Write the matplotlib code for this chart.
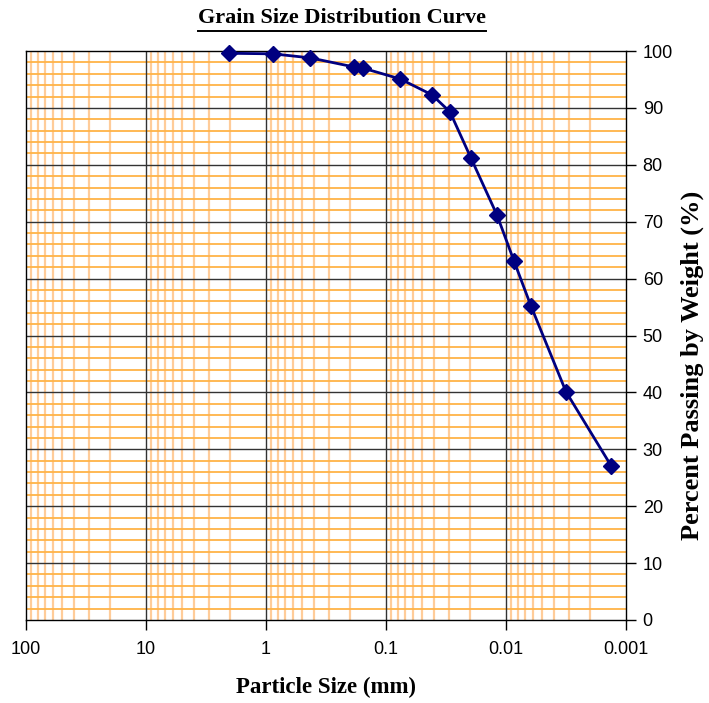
import matplotlib
matplotlib.use("Agg")
import matplotlib.pyplot as plt
from matplotlib.lines import Line2D
import numpy as np

# Data
particle_size_mm = [2.03, 0.875, 0.43, 0.185, 0.156, 0.0764, 0.0414, 0.0293,
                    0.0196, 0.0119, 0.00858, 0.0062, 0.00316, 0.00133]
percent_passing = [99.6, 99.5, 98.8, 97.2, 97.0, 95.1, 92.3, 89.3,
                   81.2, 71.2, 63.1, 55.2, 40.1, 27.1]

x_ticks = [100, 10, 1, 0.1, 0.01, 0.001]
x_tick_labels = ["100", "10", "1", "0.1", "0.01", "0.001"]
y_ticks = [0, 10, 20, 30, 40, 50, 60, 70, 80, 90, 100]

fig = plt.figure(figsize=(7.09, 7.03), dpi=100)
ax = fig.add_axes([26/709, 83/703, 600/709, 569/703])

ax.set_xscale("log")
ax.set_xlim(100, 0.001)
ax.set_ylim(0, 100)

# minor grid
for dec in [100, 10, 1, 0.1, 0.01]:
    for m in range(2, 10):
        ax.axvline(dec / 10 * m, color="#FFCC99", lw=1.6, zorder=1)
for yv in np.arange(2, 100, 2):
    if yv % 10 != 0:
        ax.axhline(yv, color="#FFB347", lw=1.3, zorder=1)
# major grid
for xv in x_ticks[1:-1]:
    ax.axvline(xv, color="#333333", lw=1.0, zorder=2)
for yv in y_ticks[1:-1]:
    ax.axhline(yv, color="#333333", lw=1.0, zorder=2)

ax.plot(particle_size_mm, percent_passing, color="#000080", lw=2.0,
        marker="D", markersize=8, markerfacecolor="#000080",
        markeredgecolor="#000080", zorder=5, clip_on=False)

ax.minorticks_off()
ax.set_xticks(x_ticks)
ax.set_xticklabels(x_tick_labels)
ax.xaxis.set_minor_locator(matplotlib.ticker.NullLocator())
ax.yaxis.tick_right()
ax.yaxis.set_label_position("right")
ax.set_yticks(y_ticks)
ax.tick_params(axis="both", direction="out", length=7, width=1, color="black",
               labelsize=13, pad=5)
ax.tick_params(axis="x", pad=8)
for lab in ax.get_xticklabels() + ax.get_yticklabels():
    lab.set_fontfamily("Liberation Sans")

for s in ax.spines.values():
    s.set_color("black")
    s.set_linewidth(1.0)

ax.set_xlabel("Particle Size (mm)", fontfamily="Liberation Serif",
              fontweight="bold", fontsize=16.5, labelpad=14)
ax.set_ylabel("Percent Passing by Weight (%)", fontfamily="Liberation Serif",
              fontweight="bold", fontsize=19, ha="center", va="center")
ax.yaxis.set_label_coords((692 - 26) / 600, (620 - 365) / 569)

t = fig.text(342/709, 1 - 18/703, "Grain Size Distribution Curve",
             fontfamily="Liberation Serif", fontweight="bold", fontsize=16,
             ha="center", va="center")
fig.add_artist(Line2D([198/709, 486/709], [1 - 30.5/703, 1 - 30.5/703],
                      color="black", lw=1.4))

fig.savefig("out.png", dpi=100, facecolor="white")
